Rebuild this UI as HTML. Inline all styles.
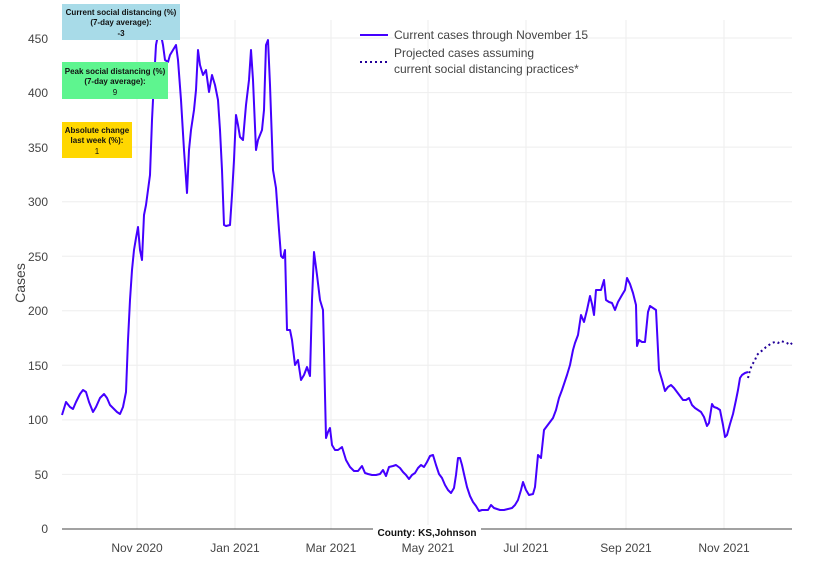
<!DOCTYPE html>
<html><head><meta charset="utf-8"><style>
body{margin:0;background:#fff;}
svg text{font-family:"Liberation Sans",sans-serif;}
</style></head><body>
<svg width="828" height="575" viewBox="0 0 828 575">
<g stroke="#eee" stroke-width="1">
<line x1="62" x2="792" y1="474.4" y2="474.4"/><line x1="62" x2="792" y1="419.9" y2="419.9"/>
<line x1="62" x2="792" y1="365.3" y2="365.3"/><line x1="62" x2="792" y1="310.8" y2="310.8"/>
<line x1="62" x2="792" y1="256.2" y2="256.2"/><line x1="62" x2="792" y1="201.7" y2="201.7"/>
<line x1="62" x2="792" y1="147.1" y2="147.1"/><line x1="62" x2="792" y1="92.6" y2="92.6"/>
<line x1="62" x2="792" y1="38" y2="38"/>
<line x1="137" x2="137" y1="20" y2="529"/><line x1="235" x2="235" y1="20" y2="529"/>
<line x1="331" x2="331" y1="20" y2="529"/><line x1="428" x2="428" y1="20" y2="529"/>
<line x1="526" x2="526" y1="20" y2="529"/><line x1="626" x2="626" y1="20" y2="529"/>
<line x1="724" x2="724" y1="20" y2="529"/>
</g>
<line x1="62" x2="792" y1="529" y2="529" stroke="#444" stroke-width="1"/>
<g font-size="12" fill="#444" text-anchor="end">
<text x="48" y="533">0</text><text x="48" y="479">50</text><text x="48" y="424">100</text>
<text x="48" y="370">150</text><text x="48" y="315">200</text><text x="48" y="261">250</text>
<text x="48" y="206">300</text><text x="48" y="152">350</text><text x="48" y="97">400</text>
<text x="48" y="43">450</text>
</g>
<g font-size="12" fill="#444" text-anchor="middle">
<text x="137" y="552">Nov 2020</text><text x="235" y="552">Jan 2021</text><text x="331" y="552">Mar 2021</text>
<text x="428" y="552">May 2021</text><text x="526" y="552">Jul 2021</text><text x="626" y="552">Sep 2021</text>
<text x="724" y="552">Nov 2021</text>
</g>
<text x="25" y="283" font-size="14" fill="#444" text-anchor="middle" transform="rotate(-90 25 283)">Cases</text>
<polyline fill="none" stroke="#4400ff" stroke-width="2" stroke-linejoin="round" points="62,415 66,402 70,407 73,409 76,402 80,394 83,390 86,392 89,402 93,412 96,407 100,398 104,394 107,398 110,405 114,409 117,412 120,414 123,407 126,392 128,340 130,300 132,270 134,250 136,238 138,227 140,250 142,260 144,215 146,205 148,190 150,175 152,120 154,80 156,45 158,35 161,35 163,45 165,60 168,62 170,55 173,50 176,45 178,60 181,100 184,150 187,193 189,150 191,130 194,110 196,90 198,50 200,65 203,75 206,70 209,92 212,75 215,85 218,100 220,130 222,170 224,225 226,226 230,225 232,195 234,160 236,115 238,125 240,137 243,140 246,105 249,80 251,50 253,80 256,150 258,140 262,130 264,110 266,45 268,40 270,85 273,170 276,188 279,230 281,256 283,258 285,250 287,330 290,330 292,340 295,365 298,360 301,380 304,375 307,367 310,376 312,300 314,252 317,275 320,300 323,310 324,350 325,395 326,438 328,432 330,428 332,445 335,450 338,450 342,447 346,460 350,467 354,471 358,471 362,466 365,473 368,474 372,475 376,475 380,474 383,470 386,476 389,467 393,466 396,465 400,468 403,472 406,475 409,479 412,475 415,473 418,468 421,465 424,467 427,462 430,456 433,455 436,465 439,474 442,478 445,485 448,490 451,493 454,488 456,475 458,458 460,458 462,465 464,474 467,487 470,496 473,502 476,506 479,511 482,510 485,510 488,510 491,505 494,508 497,509 500,510 504,510 508,509 512,508 515,505 518,500 521,490 523,482 526,490 529,495 533,494 535,487 538,455 541,458 544,430 547,426 550,422 553,418 556,410 559,398 562,390 565,381 567,375 570,365 573,350 575,343 578,335 581,315 584,322 587,310 590,296 592,304 594,315 596,290 599,290 601,290 604,280 606,300 609,302 612,303 615,310 618,302 622,295 625,290 627,278 630,284 633,293 636,305 637,346 639,340 642,342 645,342 648,312 650,306 653,308 656,310 659,370 662,380 665,391 668,387 671,385 674,388 677,392 680,396 683,400 686,400 689,398 692,405 695,408 698,410 701,412 704,417 707,426 709,423 712,404 714,407 717,408 720,410 723,425 725,437 727,435 730,424 733,414 736,400 738,390 740,378 742,375 745,373 748,372"/>
<polyline fill="none" stroke="#220099" stroke-width="2" stroke-dasharray="2,3" points="748,378 750,370 752,365 755,360 757,355 760,352 763,350 766,347 769,345 772,343 775,342 778,343 781,341 784,342 787,343 790,345 792,343"/>
<line x1="360" x2="388" y1="35" y2="35" stroke="#4400ff" stroke-width="2"/>
<text x="394" y="39" font-size="12" fill="#444">Current cases through November 15</text>
<line x1="360" x2="388" y1="62" y2="62" stroke="#220099" stroke-width="2" stroke-dasharray="2,3"/>
<text x="394" y="57" font-size="12" fill="#444">Projected cases assuming</text>
<text x="394" y="73" font-size="12" fill="#444">current social distancing practices*</text>
<rect x="62" y="4" width="118" height="36" fill="#a8dbe8"/>
<g font-size="8" font-weight="bold" text-anchor="middle" fill="#111">
<text x="121" y="15">Current social distancing (%)</text>
<text x="121" y="25">(7-day average):</text>
<text x="121" y="36">-3</text>
</g>
<rect x="62" y="62" width="106" height="37" fill="#5ef58f"/>
<g font-size="8" text-anchor="middle" fill="#111">
<text x="115" y="74" font-weight="bold">Peak social distancing (%)</text>
<text x="115" y="84" font-weight="bold">(7-day average):</text>
<text x="115" y="95">9</text>
</g>
<rect x="62" y="122" width="70" height="36" fill="#ffd700"/>
<g font-size="8" text-anchor="middle" fill="#111">
<text x="97" y="133" font-weight="bold">Absolute change</text>
<text x="97" y="143" font-weight="bold">last week (%):</text>
<text x="97" y="154">1</text>
</g>
<rect x="373" y="525" width="108" height="14" fill="#fff"/>
<text x="427" y="536" font-size="10" font-weight="bold" text-anchor="middle" fill="#111">County: KS,Johnson</text>
</svg>
</body></html>
